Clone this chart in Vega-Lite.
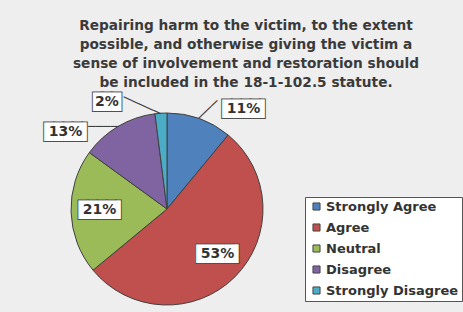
{
  "$schema": "https://vega.github.io/schema/vega-lite/v6.json",
  "width": 200,
  "height": 200,
  "autosize": {"type": "none"},
  "padding": {"left": 67, "top": 109, "right": 196, "bottom": 3},
  "background": "#eeeeee",
  "title": {
    "text": ["Repairing harm to the victim, to the extent", "possible, and otherwise giving the victim a", "sense of involvement and restoration should", "be included in the 18-1-102.5 statute."],
    "font": "DejaVu Sans",
    "fontSize": 13.7,
    "fontWeight": "bold",
    "color": "#3a3a3a",
    "lineHeight": 19,
    "anchor": "middle",
    "dx": 79,
    "dy": 24.5,
    "offset": 18
  },
  "data": {
    "values": [
      {"response": "Strongly Agree", "pct": 11, "rank": 1, "label": "11%"},
      {"response": "Agree", "pct": 53, "rank": 2, "label": "53%"},
      {"response": "Neutral", "pct": 21, "rank": 3, "label": "21%"},
      {"response": "Disagree", "pct": 13, "rank": 4, "label": "13%"},
      {"response": "Strongly Disagree", "pct": 2, "rank": 5, "label": "2%"}
    ]
  },
  "encoding": {
    "theta": {"field": "pct", "type": "quantitative", "stack": true},
    "order": {"field": "rank", "type": "quantitative"}
  },
  "layer": [
    {
      "mark": {"type": "arc", "radius": 96, "stroke": "#404040", "strokeWidth": 1},
      "encoding": {
        "color": {
          "field": "response",
          "type": "nominal",
          "scale": {
            "domain": ["Strongly Agree", "Agree", "Neutral", "Disagree", "Strongly Disagree"],
            "range": ["#4F81BD", "#C0504D", "#9BBB59", "#8064A2", "#4BACC6"]
          },
          "legend": {
            "orient": "none",
            "legendX": 238,
            "legendY": 88,
            "title": null,
            "fillColor": "#ffffff",
            "strokeColor": "#555555",
            "padding": 3,
            "symbolOffset": 2,
            "symbolType": "square",
            "symbolSize": 50,
            "symbolStrokeColor": "#444444",
            "symbolStrokeWidth": 1,
            "labelFont": "DejaVu Sans",
            "labelFontWeight": "bold",
            "labelFontSize": 13,
            "labelColor": "#333333",
            "labelOffset": 3,
            "rowPadding": 7
          }
        }
      }
    },
    {
      "mark": {"type": "text", "font": "DejaVu Sans Mono", "fontSize": 14, "radius": 96, "align": "left", "baseline": "middle", "angle": -44, "fill": "#404040"},
      "encoding": {"text": {"condition": {"test": "datum.response === 'Strongly Agree'", "value": "───"}, "value": ""}}
    },
    {
      "mark": {"type": "text", "font": "DejaVu Sans Mono", "fontSize": 12.5, "radius": 96, "align": "left", "baseline": "middle", "angle": 180, "fill": "#404040"},
      "encoding": {"text": {"condition": {"test": "datum.response === 'Disagree'", "value": "────"}, "value": ""}}
    },
    {
      "mark": {"type": "text", "font": "DejaVu Sans Mono", "fontSize": 13.5, "radius": 96, "align": "left", "baseline": "middle", "angle": -155.5, "fill": "#404040"},
      "encoding": {"text": {"condition": {"test": "datum.response === 'Strongly Disagree'", "value": "─────"}, "value": ""}}
    },

    {"mark": {"type": "text", "font": "DejaVu Sans Mono", "fontSize": 15.6, "radius": 96, "dx": 46.3, "dy": -9.2, "align": "center", "baseline": "middle", "fill": "#505050", "stroke": "#505050", "strokeWidth": 2},
     "encoding": {"text": {"condition": {"test": "datum.response === 'Strongly Agree'", "value": "████▌"}, "value": ""}}},
    {"mark": {"type": "text", "font": "DejaVu Sans Mono", "fontSize": 15.6, "radius": 96, "dx": 46.3, "dy": -9.2, "align": "center", "baseline": "middle", "fill": "#ffffff"},
     "encoding": {"text": {"condition": {"test": "datum.response === 'Strongly Agree'", "value": "████▌"}, "value": ""}}},
    {"mark": {"type": "text", "font": "DejaVu Sans", "fontSize": 14, "fontWeight": "bold", "radius": 96, "dx": 44, "dy": -9.2, "align": "center", "baseline": "middle", "fill": "#333333"},
     "encoding": {"text": {"condition": {"test": "datum.response === 'Strongly Agree'", "field": "label"}, "value": ""}}},

    {"mark": {"type": "text", "font": "DejaVu Sans Mono", "fontSize": 15.6, "radius": 96, "dx": -15.1, "dy": -22.9, "align": "center", "baseline": "middle", "fill": "#505050", "stroke": "#505050", "strokeWidth": 2},
     "encoding": {"text": {"condition": {"test": "datum.response === 'Agree'", "value": "████▌"}, "value": ""}}},
    {"mark": {"type": "text", "font": "DejaVu Sans Mono", "fontSize": 15.6, "radius": 96, "dx": -15.1, "dy": -22.9, "align": "center", "baseline": "middle", "fill": "#ffffff"},
     "encoding": {"text": {"condition": {"test": "datum.response === 'Agree'", "value": "████▌"}, "value": ""}}},
    {"mark": {"type": "text", "font": "DejaVu Sans", "fontSize": 14, "fontWeight": "bold", "radius": 96, "dx": -17.4, "dy": -22.9, "align": "center", "baseline": "middle", "fill": "#333333"},
     "encoding": {"text": {"condition": {"test": "datum.response === 'Agree'", "field": "label"}, "value": ""}}},

    {"mark": {"type": "text", "font": "DejaVu Sans Mono", "fontSize": 15.6, "radius": 96, "dx": 30.8, "dy": -2, "align": "center", "baseline": "middle", "fill": "#505050", "stroke": "#505050", "strokeWidth": 2},
     "encoding": {"text": {"condition": {"test": "datum.response === 'Neutral'", "value": "████▌"}, "value": ""}}},
    {"mark": {"type": "text", "font": "DejaVu Sans Mono", "fontSize": 15.6, "radius": 96, "dx": 30.8, "dy": -2, "align": "center", "baseline": "middle", "fill": "#ffffff"},
     "encoding": {"text": {"condition": {"test": "datum.response === 'Neutral'", "value": "████▌"}, "value": ""}}},
    {"mark": {"type": "text", "font": "DejaVu Sans", "fontSize": 14, "fontWeight": "bold", "radius": 96, "dx": 28.5, "dy": -2, "align": "center", "baseline": "middle", "fill": "#333333"},
     "encoding": {"text": {"condition": {"test": "datum.response === 'Neutral'", "field": "label"}, "value": ""}}},

    {"mark": {"type": "text", "font": "DejaVu Sans Mono", "fontSize": 15.6, "radius": 96, "dx": -50.3, "dy": 6.1, "align": "center", "baseline": "middle", "fill": "#505050", "stroke": "#505050", "strokeWidth": 2},
     "encoding": {"text": {"condition": {"test": "datum.response === 'Disagree'", "value": "████▌"}, "value": ""}}},
    {"mark": {"type": "text", "font": "DejaVu Sans Mono", "fontSize": 15.6, "radius": 96, "dx": -50.3, "dy": 6.1, "align": "center", "baseline": "middle", "fill": "#ffffff"},
     "encoding": {"text": {"condition": {"test": "datum.response === 'Disagree'", "value": "████▌"}, "value": ""}}},
    {"mark": {"type": "text", "font": "DejaVu Sans", "fontSize": 14, "fontWeight": "bold", "radius": 96, "dx": -52.6, "dy": 6.1, "align": "center", "baseline": "middle", "fill": "#333333"},
     "encoding": {"text": {"condition": {"test": "datum.response === 'Disagree'", "field": "label"}, "value": ""}}},

    {"mark": {"type": "text", "font": "DejaVu Sans Mono", "fontSize": 15.6, "radius": 96, "dx": -54, "dy": -10.7, "align": "center", "baseline": "middle", "fill": "#505050", "stroke": "#505050", "strokeWidth": 2},
     "encoding": {"text": {"condition": {"test": "datum.response === 'Strongly Disagree'", "value": "███"}, "value": ""}}},
    {"mark": {"type": "text", "font": "DejaVu Sans Mono", "fontSize": 15.6, "radius": 96, "dx": -54, "dy": -10.7, "align": "center", "baseline": "middle", "fill": "#ffffff"},
     "encoding": {"text": {"condition": {"test": "datum.response === 'Strongly Disagree'", "value": "███"}, "value": ""}}},
    {"mark": {"type": "text", "font": "DejaVu Sans", "fontSize": 14, "fontWeight": "bold", "radius": 96, "dx": -54, "dy": -10.7, "align": "center", "baseline": "middle", "fill": "#333333"},
     "encoding": {"text": {"condition": {"test": "datum.response === 'Strongly Disagree'", "field": "label"}, "value": ""}}}
  ],
  "config": {"view": {"stroke": null}}
}
